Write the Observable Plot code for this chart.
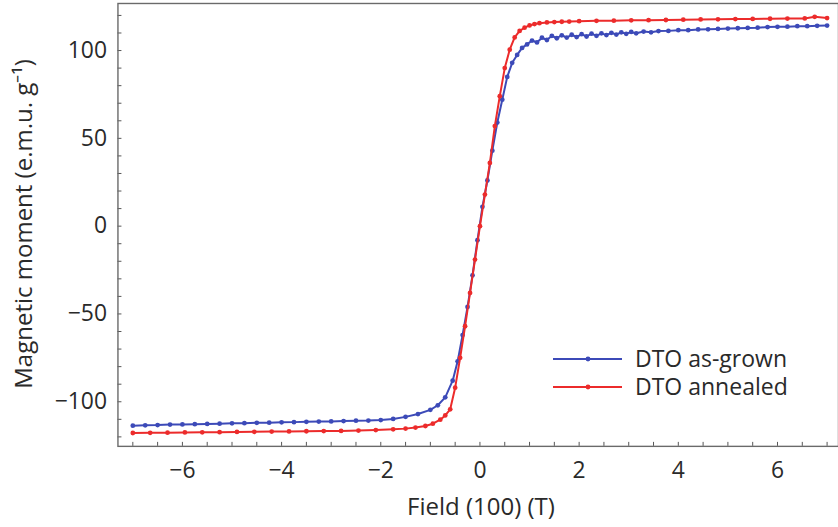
<!DOCTYPE html>
<html><head><meta charset="utf-8">
<script src="https://cdn.jsdelivr.net/npm/d3@7"></script>
<script src="https://cdn.jsdelivr.net/npm/@observablehq/plot@0.6"></script>
<style>
html,body{margin:0;padding:0;background:#fff;overflow:hidden;}
#wrap{position:relative;width:838px;height:527px;overflow:hidden;}
.legend{position:absolute;left:553px;top:344px;display:flex;align-items:flex-start;}
.legend svg{display:block;margin-right:13px;}
.legtext{font-family:"Open Sans",sans-serif;font-size:23px;line-height:28px;color:#2a2a2a;white-space:pre;}
.axlabel{position:absolute;font-family:"Open Sans",sans-serif;font-size:24px;line-height:32px;color:#2a2a2a;white-space:nowrap;}
</style></head><body><div id="wrap"></div>
<script>
const asGrownField = [-7,-6.75,-6.5,-6.25,-6,-5.75,-5.5,-5.25,-5,-4.75,-4.5,-4.25,-4,-3.75,-3.5,-3.25,-3,-2.75,-2.5,-2.25,-2,-1.75,-1.5,-1.25,-1,-0.85,-0.7,-0.55,-0.45,-0.35,-0.25,-0.15,-0.05,0.05,0.15,0.25,0.35,0.45,0.55,0.65,0.75,0.85,0.95,1.05,1.15,1.25,1.35,1.45,1.55,1.65,1.75,1.85,1.95,2.05,2.15,2.25,2.35,2.45,2.55,2.65,2.75,2.85,2.95,3.05,3.15,3.3,3.45,3.6,3.8,4,4.2,4.4,4.6,4.8,5,5.2,5.4,5.6,5.8,6,6.2,6.4,6.6,6.8,7];
const asGrownMoment = [-113.6,-113.4,-113.3,-113.0,-112.9,-112.8,-112.6,-112.5,-112.3,-112.2,-112.0,-111.9,-111.7,-111.6,-111.4,-111.3,-111.2,-111.0,-110.8,-110.7,-110.4,-109.8,-108.6,-107.0,-104.6,-102.0,-97.5,-88.0,-77,-62,-46,-28,-8,11,26,43,59,72,85,93,97.5,101.5,103.5,105.7,104.6,107.3,106.0,108.4,107.0,108.7,107.4,109.0,107.7,109.3,108.0,109.6,108.4,109.8,108.8,110.1,109.1,110.4,109.5,110.6,109.8,110.8,110.4,111.1,111.2,111.6,111.6,112.0,112.1,112.3,112.5,112.7,112.9,113.0,113.4,113.5,113.6,113.9,113.9,114.1,114.2];
const annealedField = [-7,-6.65,-6.3,-5.95,-5.6,-5.25,-4.9,-4.55,-4.2,-3.85,-3.5,-3.15,-2.8,-2.45,-2.1,-1.75,-1.5,-1.3,-1.1,-0.95,-0.8,-0.7,-0.6,-0.5,-0.4,-0.3,-0.2,-0.1,0,0.1,0.2,0.3,0.4,0.5,0.6,0.7,0.8,0.9,1,1.1,1.2,1.35,1.5,1.65,1.8,2,2.35,2.7,3.05,3.4,3.75,4.1,4.45,4.8,5.15,5.5,5.85,6.2,6.55,6.75,7];
const annealedMoment = [-117.8,-117.7,-117.6,-117.5,-117.4,-117.3,-117.2,-117.1,-117.0,-116.9,-116.8,-116.7,-116.6,-116.4,-116.1,-115.7,-115.3,-114.7,-113.8,-112.5,-110.2,-107.8,-104.3,-92,-75,-57,-38,-19,0,18,36,57,74,90,100.5,107.5,111.2,113,114.3,115.1,115.6,116.0,116.2,116.4,116.5,116.7,116.9,117.0,117.2,117.3,117.4,117.6,117.7,117.8,117.9,118.0,118.1,118.2,118.3,119.2,118.5];
const seriesNames = ["DTO as-grown", "DTO annealed"];
const seriesColors = ["#3c4ab8", "#ec2b2b"];
const xTickLabels = [-6, -4, -2, 0, 2, 4, 6];
const yTickLabels = [-100, -50, 0, 50, 100];
const xMinorTicks = d3.range(-7, 7.001, 0.5);
const yMinorTicks = d3.range(-120, 120.001, 10);
const xLabel = "Field (100) (T)";
const yLabel = "Magnetic moment (e.m.u. g\u207B\u00B9)";

const asGrown = asGrownField.map((f, i) => ({field: f, moment: asGrownMoment[i]}));
const annealed = annealedField.map((f, i) => ({field: f, moment: annealedMoment[i]}));

const W = 842, H = 527, mL = 118, mR = 0, mT = 3, mB = 79;
const plotW = W - mL - mR, plotH = H - mT - mB;
const fmt = d => d < 0 ? "\u2212" + Math.abs(d) : String(d);

const chart = Plot.plot({
  width: W, height: H,
  marginLeft: mL, marginRight: mR, marginTop: mT, marginBottom: mB,
  x: {domain: [-7.3, 7.23]},
  y: {domain: [-125.4, 126.8]},
  style: {fontFamily: "'Open Sans', sans-serif", fontSize: "23px", color: "#2a2a2a", background: "white", overflow: "visible"},
  marks: [
    Plot.tickX(xMinorTicks, {x: d => d, insetTop: plotH - 4, stroke: "#555", strokeWidth: 1}),
    Plot.tickY(yMinorTicks, {y: d => d, insetRight: plotW - 4, stroke: "#555", strokeWidth: 1}),
    Plot.axisX(xTickLabels, {tickSize: 0, tickPadding: 15, tickFormat: fmt, fontSize: 23, label: null}),
    Plot.axisY(yTickLabels, {tickSize: 0, tickPadding: 11, tickFormat: fmt, fontSize: 23, label: null}),
    Plot.line(asGrown, {x: "field", y: "moment", stroke: seriesColors[0], strokeWidth: 2}),
    Plot.dot(asGrown, {x: "field", y: "moment", r: 2.4, fill: seriesColors[0]}),
    Plot.line(annealed, {x: "field", y: "moment", stroke: seriesColors[1], strokeWidth: 2}),
    Plot.dot(annealed, {x: "field", y: "moment", r: 2.4, fill: seriesColors[1]}),
    Plot.frame({stroke: "#6a6a6a", strokeWidth: 1.4})
  ]
});
const wrap = document.getElementById("wrap");
wrap.appendChild(chart);

const xl = document.createElement("div");
xl.className = "axlabel";
xl.textContent = xLabel;
xl.style.left = "481px"; xl.style.top = "490px"; xl.style.transform = "translateX(-50%)";
wrap.appendChild(xl);

const yl = document.createElement("div");
yl.className = "axlabel";
yl.textContent = yLabel;
yl.style.left = "23px"; yl.style.top = "224px"; yl.style.transform = "translate(-50%,-50%) rotate(-90deg)";
wrap.appendChild(yl);

// legend: swatches + one text block
const legend = document.createElement("div");
legend.className = "legend";
const sw = d3.create("svg").attr("width", 69).attr("height", 28 * seriesNames.length);
seriesNames.forEach((name, i) => {
  sw.append("line").attr("x1", 0).attr("x2", 69).attr("y1", 15 + 28 * i).attr("y2", 15 + 28 * i)
    .attr("stroke", seriesColors[i]).attr("stroke-width", 2);
  sw.append("circle").attr("cx", 35).attr("cy", 15 + 28 * i).attr("r", 2.4).attr("fill", seriesColors[i]);
});
legend.appendChild(sw.node());
const lt = document.createElement("div");
lt.className = "legtext";
lt.textContent = seriesNames.join("\n");
legend.appendChild(lt);
wrap.appendChild(legend);
</script></body></html>
